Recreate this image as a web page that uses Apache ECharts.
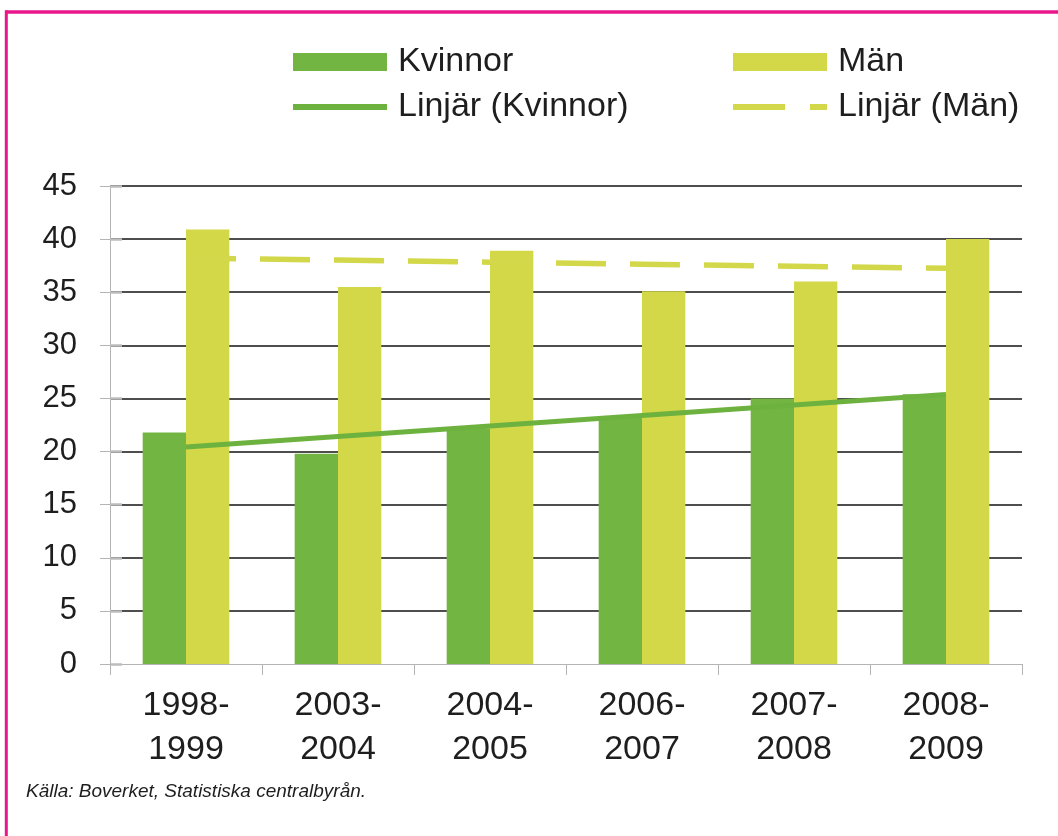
<!DOCTYPE html>
<html>
<head>
<meta charset="utf-8">
<script src="https://cdn.jsdelivr.net/npm/echarts@6/dist/echarts.min.js"></script>
<style>
  html, body { margin: 0; padding: 0; background: #ffffff; }
  #chart { width: 1058px; height: 836px; }
</style>
</head>
<body>
<div id="chart"></div>
<script>
// Period labels (two lines each)
const categories = ['1998-\n1999', '2003-\n2004', '2004-\n2005', '2006-\n2007', '2007-\n2008', '2008-\n2009'];

// Values per period
const kvinnor = [21.8, 19.8, 22.2, 23.2, 25.0, 25.4];
const man = [40.9, 35.5, 38.9, 35.1, 36.0, 40.0];

// Value axis settings
const yMin = 0;
const yMax = 45;
const yStep = 5;

const sourceNote = 'Källa: Boverket, Statistiska centralbyrån.';

// Least-squares linear trend evaluated at each category position
function linearTrend(values) {
  const n = values.length;
  let sx = 0, sy = 0, sxx = 0, sxy = 0;
  values.forEach((v, i) => { sx += i; sy += v; sxx += i * i; sxy += i * v; });
  const slope = (n * sxy - sx * sy) / (n * sxx - sx * sx);
  const intercept = (sy - slope * sx) / n;
  return values.map((_, i) => +(intercept + slope * i).toFixed(3));
}

const FONT = "'Liberation Sans', Arial, Helvetica, sans-serif";
const GREEN = '#73b542';
const YELLOW = '#d3d848';
const TREND_GREEN = '#6db23f';
const TREND_YELLOW = '#d3d84a';
const TEXT = '#1e1e1e';
const AXIS_GREY = '#b4b4b4';

const legendText = {
  fontSize: 34, color: TEXT, fontFamily: FONT,
  padding: [0, 0, 0, 6]
};

const chart = echarts.init(document.getElementById('chart'));

chart.setOption({
  backgroundColor: '#ffffff',
  animation: false,
  textStyle: { fontFamily: FONT },
  graphic: [
    { type: 'line', shape: { x1: 5, y1: 12, x2: 1058, y2: 12 },
      style: { stroke: '#e9168c', lineWidth: 3.5 }, z: 10 },
    { type: 'line', shape: { x1: 6.3, y1: 10.5, x2: 6.3, y2: 836 },
      style: { stroke: '#e9168c', lineWidth: 3 }, z: 10 },
    { type: 'text', left: 26, top: 782,
      style: { text: sourceNote, font: 'italic 19px ' + FONT, fill: TEXT } }
  ],
  legend: [
    {
      left: 290, top: 45, orient: 'vertical', padding: 0,
      itemWidth: 94, itemHeight: 18, itemGap: 11,
      selectedMode: false,
      textStyle: legendText,
      data: [
        { name: 'Kvinnor', icon: 'rect' },
        { name: 'Linjär (Kvinnor)', itemStyle: { opacity: 0 },
          lineStyle: { width: 6, color: TREND_GREEN } }
      ]
    },
    {
      left: 730, top: 45, orient: 'vertical', padding: 0,
      itemWidth: 94, itemHeight: 18, itemGap: 11,
      selectedMode: false,
      textStyle: legendText,
      data: [
        { name: 'Män', icon: 'rect' },
        { name: 'Linjär (Män)', itemStyle: { opacity: 0 },
          lineStyle: { width: 6, color: TREND_YELLOW, type: [52, 25] } }
      ]
    }
  ],
  grid: { left: 110, right: 36, top: 186, bottom: 172, containLabel: false },
  xAxis: {
    type: 'category',
    data: categories,
    axisLine: { lineStyle: { color: AXIS_GREY, width: 1 } },
    axisTick: { show: true, length: 11, lineStyle: { color: AXIS_GREY, width: 1 } },
    axisLabel: {
      fontSize: 34, color: TEXT, fontFamily: FONT,
      lineHeight: 44, margin: 20, interval: 0
    }
  },
  yAxis: [
    {
      type: 'value',
      min: yMin, max: yMax, interval: yStep,
      axisLine: { show: true, lineStyle: { color: AXIS_GREY, width: 1 } },
      axisTick: { show: true, length: 10, lineStyle: { color: AXIS_GREY, width: 1 } },
      axisLabel: { fontSize: 31, color: TEXT, fontFamily: FONT, margin: 33 },
      splitLine: { show: true, showMinLine: false, lineStyle: { color: '#4e4e4e', width: 2 } }
    },
    {
      // inner half of the crossing tick marks
      type: 'value',
      min: yMin, max: yMax, interval: yStep,
      position: 'left',
      axisLine: { show: false },
      axisTick: { show: true, inside: true, length: 12, lineStyle: { color: '#bdbdbd', width: 2.5 } },
      axisLabel: { show: false },
      splitLine: { show: false }
    }
  ],
  series: [
    {
      name: 'Kvinnor', type: 'bar', data: kvinnor,
      barGap: '0%', barCategoryGap: '43%',
      itemStyle: { color: GREEN }
    },
    {
      name: 'Män', type: 'bar', data: man,
      itemStyle: { color: YELLOW }
    },
    {
      name: 'Linjär (Kvinnor)', type: 'line', data: linearTrend(kvinnor),
      symbol: 'none', z: 5,
      lineStyle: { color: TREND_GREEN, width: 5 },
      itemStyle: { color: TREND_GREEN }
    },
    {
      name: 'Linjär (Män)', type: 'line', data: linearTrend(man),
      symbol: 'none', z: 5,
      lineStyle: { color: TREND_YELLOW, width: 5.5, type: [50, 24] },
      itemStyle: { color: TREND_YELLOW }
    }
  ]
});
</script>
</body>
</html>
